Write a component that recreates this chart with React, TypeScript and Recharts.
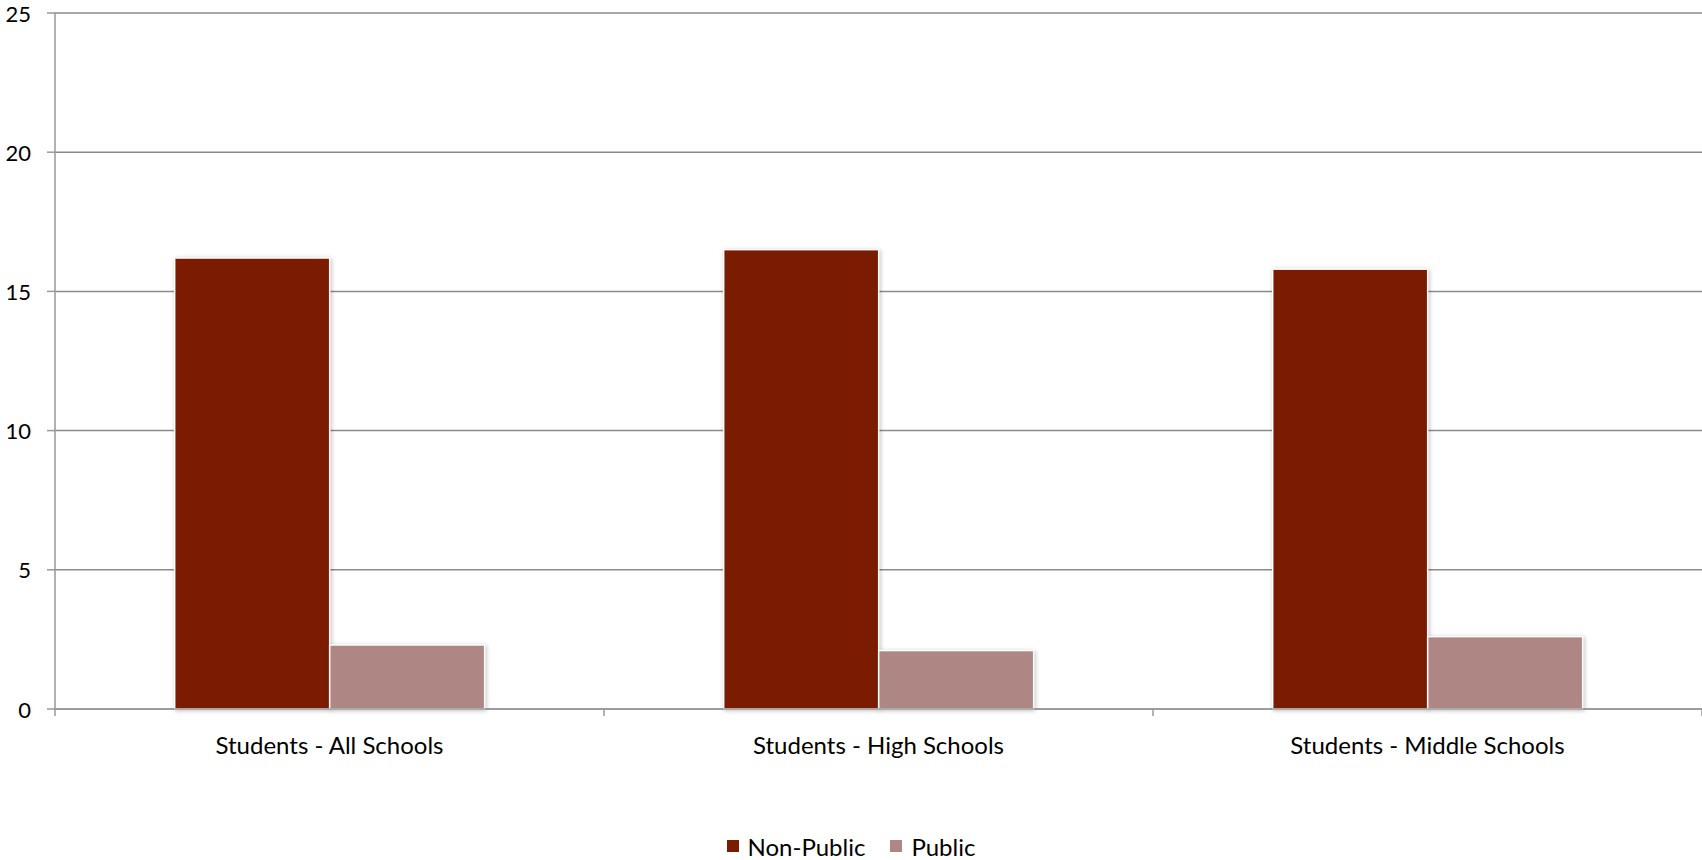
import React from "react";
import { BarChart, Bar, XAxis, YAxis, CartesianGrid, Legend } from "recharts";

const categories = ["Students - All Schools", "Students - High Schools", "Students - Middle Schools"];
const nonPublic = [16.2, 16.5, 15.8];
const publicVals = [2.3, 2.1, 2.6];
const yTicks = [0, 5, 10, 15, 20, 25];
const seriesNames = ["Non-Public", "Public"];
const seriesColors = ["#7B1C02", "#AE8784"];

const data = categories.map((c, i) => ({ name: c, nonPublic: nonPublic[i], public: publicVals[i] }));

const W = 1702;
const H = 860;
const LEFT = 55;
const FONT = "Lato, 'Open Sans', sans-serif";
const band = (W - LEFT) / categories.length;

const CatTick = (props: any) => {
  const { x, y, payload, index } = props;
  return (
    <g>
      <line x1={x - band / 2} x2={x - band / 2} y1={y} y2={y + 7} stroke="#999" strokeWidth={1.5} />
      {index === categories.length - 1 && (
        <line x1={x + band / 2} x2={x + band / 2} y1={y} y2={y + 7} stroke="#999" strokeWidth={1.5} />
      )}
      <text x={x} y={y + 35} textAnchor="middle" dominantBaseline="central" fill="#000" fontSize={24} fontFamily={FONT}>
        {payload.value}
      </text>
    </g>
  );
};

const YTick = (props: any) => {
  const { x, y, payload } = props;
  return (
    <text x={x} y={y} textAnchor="end" dominantBaseline="central" fill="#000" fontSize={22} fontFamily={FONT}>
      {payload.value}
    </text>
  );
};

const BarShape = (props: any) => {
  const { x, y, width, height, fill } = props;
  if (!height || height <= 0) return null;
  return (
    <rect
      x={x}
      y={y}
      width={width}
      height={height}
      fill={fill}
      stroke="#fff"
      strokeWidth={1.5}
      style={{ filter: "drop-shadow(1px 1px 2px rgba(0,0,0,0.25))" }}
    />
  );
};

const LegendContent = () => (
  <div style={{ display: "flex", justifyContent: "center", alignItems: "center", height: 28, fontFamily: FONT, fontSize: 24, color: "#000" }}>
    {seriesNames.map((n, i) => (
      <div key={n} style={{ display: "flex", alignItems: "center", marginRight: i === 0 ? 25 : 0 }}>
        <div style={{ width: 12, height: 12, background: seriesColors[i], marginRight: 9 }} />
        <span>{n}</span>
      </div>
    ))}
  </div>
);

export default function App() {
  return (
    <div style={{ position: "absolute", left: 0, top: 0, background: "#fff" }}>
      <BarChart
        width={W}
        height={H}
        data={data}
        margin={{ top: 13, right: 0, bottom: 0, left: 0 }}
        barCategoryGap="21.8%"
        barGap={0}
      >
        <CartesianGrid vertical={false} stroke="#8a8a8a" strokeWidth={1.5} />
        <XAxis
          dataKey="name"
          height={123}
          tickLine={false}
          tickSize={0}
          tickMargin={0}
          axisLine={{ stroke: "#999", strokeWidth: 1.5 }}
          tick={<CatTick />}
          interval={0}
        />
        <YAxis
          domain={[0, 25]}
          ticks={yTicks}
          width={LEFT}
          tickSize={8}
          tickMargin={16}
          axisLine={{ stroke: "#999", strokeWidth: 1.5 }}
          tickLine={{ stroke: "#999", strokeWidth: 1.5 }}
          tick={<YTick />}
        />
        <Legend verticalAlign="bottom" content={<LegendContent />} />
        <Bar dataKey="nonPublic" name={seriesNames[0]} fill={seriesColors[0]} isAnimationActive={false} shape={<BarShape />} />
        <Bar dataKey="public" name={seriesNames[1]} fill={seriesColors[1]} isAnimationActive={false} shape={<BarShape />} />
      </BarChart>
    </div>
  );
}
